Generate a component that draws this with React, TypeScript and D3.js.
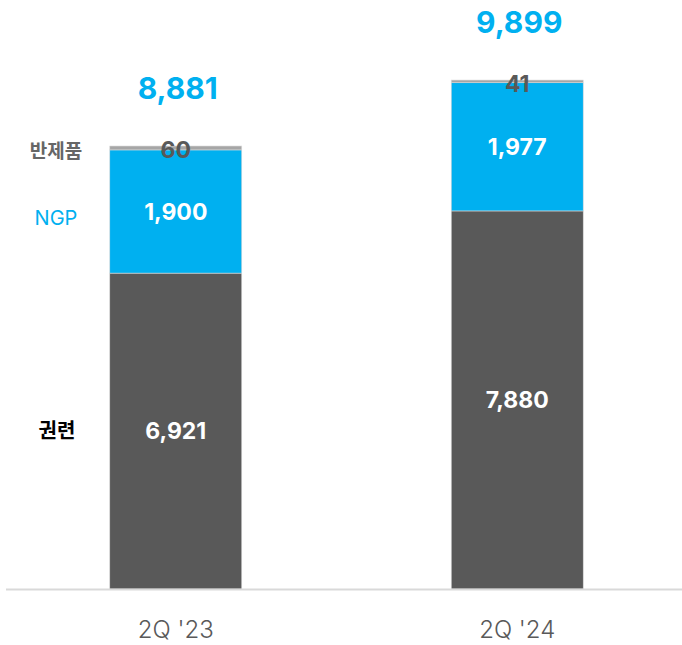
import React from "react";
import * as d3 from "d3";

const categories = ["2Q '23", "2Q '24"];
const seriesNames = ["권련", "NGP", "반제품"];
const gwonryeon = [6921, 7880];
const ngp = [1900, 1977];
const semi = [60, 41];
const totals = [8881, 9899];
const axisMin = 2050;

const W = 682;
const H = 645;
const KFONT = "'Noto Sans CJK KR', sans-serif";
const NFONT = "Inter, 'Noto Sans', sans-serif";
const colors = ["#595959", "#00B0F0", "#A6A6A6"];

export default function App() {
  const x = d3.scaleBand<string>().domain(categories).range([13, 680]).paddingInner(0.6135).paddingOuter(0.2834);
  const y = d3.scaleLinear().domain([axisMin, 9899]).range([589, 80]);
  const fmt = d3.format(",");
  const seriesVals = [gwonryeon, ngp, semi];
  const stackData = categories.map((c, i) => ({ cat: c, s0: gwonryeon[i], s1: ngp[i], s2: semi[i] }));
  const stack = d3.stack<any>().keys(["s0", "s1", "s2"])(stackData);
  const bw = x.bandwidth();

  return (
    <svg width={W} height={H} style={{ position: "absolute", left: 0, top: 0, background: "#fff" }}>
      {stack.map((layer, li) =>
        layer.map((d, i) => {
          const x0 = x(categories[i])!;
          const top = y(d[1]);
          const bot = li === 0 ? y(axisMin) : y(d[0]);
          return (
            <rect key={`${li}-${i}`} x={x0} y={top} width={bw} height={bot - top} fill={colors[li]} stroke="#d9d9d9" strokeWidth={0.6} />
          );
        })
      )}
      <line x1={6} x2={682} y1={589.5} y2={589.5} stroke="#d9d9d9" strokeWidth={2} />
      {categories.map((c, i) => {
        const cx = x(c)! + bw / 2;
        const s = stack;
        return (
          <g key={c} fontFamily={NFONT}>
            <text x={cx} y={(y(s[0][i][1]) + y(axisMin)) / 2} dy="0.36em" textAnchor="middle" fill="#fff" fontWeight={700} fontSize={23}>
              {fmt(seriesVals[0][i])}
            </text>
            <text x={cx} y={(y(s[1][i][1]) + y(s[1][i][0])) / 2} dy="0.36em" textAnchor="middle" fill="#fff" fontWeight={700} fontSize={23}>
              {fmt(seriesVals[1][i])}
            </text>
            <text x={cx} y={y(s[2][i][1]) + 4} dy="0.36em" textAnchor="middle" fill="#595959" fontWeight={700} fontSize={23}>
              {fmt(seriesVals[2][i])}
            </text>
            <text x={cx + 2} y={y(totals[i]) - 58} dy="0.36em" textAnchor="middle" fill="#00B0F0" fontWeight={700} fontSize={30}>
              {fmt(totals[i])}
            </text>
            <text x={cx} y={629} dy="0.36em" textAnchor="middle" fill="#595959" fontWeight={300} fontSize={24}>
              {c}
            </text>
          </g>
        );
      })}
      <g fontFamily={KFONT}>
        <text x={57} y={(y(stack[0][0][1]) + y(axisMin)) / 2} dy="0.36em" textAnchor="middle" fill="#000" fontWeight={700} fontSize={20}>
          {seriesNames[0]}
        </text>
        <text x={56} y={(y(stack[1][0][1]) + y(stack[1][0][0])) / 2 + 6} dy="0.36em" textAnchor="middle" fill="#00B0F0" fontWeight={400} fontSize={20} fontFamily={NFONT}>
          {seriesNames[1]}
        </text>
        <text x={56} y={y(stack[2][0][1]) + 5} dy="0.36em" textAnchor="middle" fill="#666" fontWeight={700} fontSize={19}>
          {seriesNames[2]}
        </text>
      </g>
    </svg>
  );
}
